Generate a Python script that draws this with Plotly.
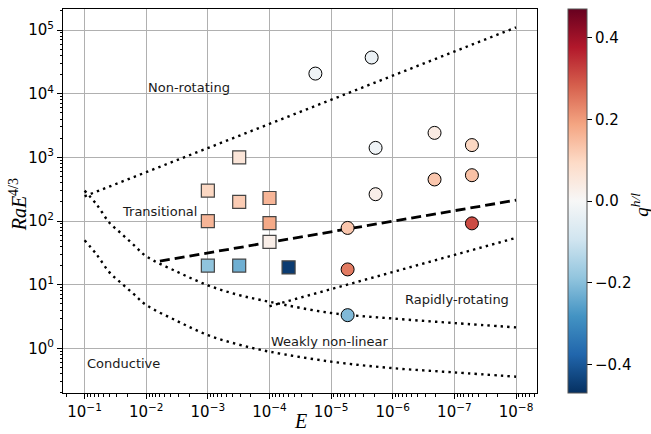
import math
import plotly.graph_objects as go

# Simulations: square markers (first set) and circle markers (second set)
sq_E = [1e-3, 1e-3, 1e-3, 3.1e-4, 3.1e-4, 3.1e-4, 1e-4, 1e-4, 1e-4, 4.9e-5]
sq_Ra = [300, 100, 20, 1000, 200, 20, 230, 93, 47, 18.7]
sq_q = [0.10, 0.16, -0.19, 0.06, 0.12, -0.23, 0.16, 0.18, 0.03, -0.45]

ci_E = [1.8e-5, 2.2e-6, 1.9e-6, 1.9e-6, 5.4e-6, 5.4e-6, 5.4e-6, 2.1e-7, 2.1e-7, 5.2e-8, 5.2e-8, 5.2e-8]
ci_Ra = [2.07e4, 3.7e4, 1410, 264, 78, 17.4, 3.33, 2425, 450, 1560, 525, 92]
ci_q = [-0.02, -0.03, -0.02, 0.03, 0.13, 0.245, -0.21, 0.04, 0.13, 0.10, 0.14, 0.31]

# Regime boundaries
curve_E = [1e-1, 10**-1.2, 10**-1.4, 10**-1.6, 10**-1.8, 1e-2, 10**-2.5, 1e-3,
           10**-3.5, 1e-4, 1e-5, 1e-6, 1e-7, 1e-8]
onset_Ra = [50, 29.5, 15.8, 10.5, 7.1, 4.8, 2.7, 1.62, 1.15, 0.89, 0.62, 0.49, 0.42, 0.36]
weak_Ra = [300, 180, 95, 63, 42, 28, 16, 9.8, 6.9, 5.4, 3.6, 2.95, 2.5, 2.14]

nonrot_E = [1e-1, 1e-8]
nonrot_Ra = [245, 1.1e5]
trans_E = [6e-3, 1e-8]
trans_Ra = [23.5, 213]
rapid_E = [1e-4, 1e-8]
rapid_Ra = [4.6, 54.5]

# Regime labels: (text, E, RaE^4/3)
region_text = ["Non-rotating", "Transitional", "Conductive", "Weakly non-linear", "Rapidly-rotating"]
region_E = [1e-2, 10**-1.57, 1e-1, 1e-4, 10**-6.17]
region_Ra = [10**4.10, 10**2.155, 10**-0.235, 10**0.104, 10**0.77]

# Axis decades
x_exps = [-1, -2, -3, -4, -5, -6, -7, -8]
y_exps = [0, 1, 2, 3, 4, 5]
cbar_ticks = [-0.4, -0.2, 0.0, 0.2, 0.4]

rdbu_r = ["#053061", "#2166ac", "#4393c3", "#92c5de", "#d1e5f0", "#f7f7f7",
          "#fddbc7", "#f4a582", "#d6604d", "#b2182b", "#67001f"]
colorscale = [[i / 10, c] for i, c in enumerate(rdbu_r)]


def pow_label(e):
    return "10<sup>" + str(e).replace("-", "−") + "</sup>"


def minor_vals(lo, hi):
    return [m * 10.0**d for d in range(lo, hi) for m in range(2, 10)]


dot = dict(color="black", width=2.4, dash="2.4px,4.2px")

fig = go.Figure()
fig.add_trace(go.Scatter(x=curve_E, y=onset_Ra, mode="lines", line=dict(shape="spline", **dot)))
fig.add_trace(go.Scatter(x=curve_E, y=weak_Ra, mode="lines", line=dict(shape="spline", **dot)))
fig.add_trace(go.Scatter(x=nonrot_E, y=nonrot_Ra, mode="lines", line=dot))
fig.add_trace(go.Scatter(x=rapid_E, y=rapid_Ra, mode="lines", line=dot))
fig.add_trace(go.Scatter(x=trans_E, y=trans_Ra, mode="lines",
                         line=dict(color="black", width=2.8, dash="10px,5px")))

fig.add_trace(go.Scatter(
    x=sq_E, y=sq_Ra, mode="markers",
    marker=dict(symbol="square", size=13, color=sq_q, coloraxis="coloraxis",
                line=dict(color="#444444", width=1.2))))
fig.add_trace(go.Scatter(
    x=ci_E, y=ci_Ra, mode="markers",
    marker=dict(symbol="circle", size=13, color=ci_q, coloraxis="coloraxis",
                line=dict(color="black", width=1))))

for t, xe, yr in zip(region_text, region_E, region_Ra):
    fig.add_annotation(x=math.log10(xe), y=math.log10(yr),
                       text=t, showarrow=False, xanchor="left", yanchor="middle",
                       font=dict(family="DejaVu Sans", size=13, color="#1a1a1a"))

serif = "Liberation Serif, DejaVu Serif, serif"
fig.add_annotation(xref="paper", yref="paper", x=0.5, y=-41 / 384, text="<i>E</i>",
                   showarrow=False, xanchor="center", yanchor="bottom",
                   font=dict(family=serif, size=20, color="black"))
fig.add_annotation(xref="paper", yref="paper", x=-0.096, y=0.49,
                   text="<i>RaE</i><sup>4/3</sup>", textangle=-90,
                   showarrow=False, xanchor="center", yanchor="middle",
                   font=dict(family=serif, size=20, color="black"))
fig.add_annotation(xref="paper", yref="paper", x=1.217, y=0.49,
                   text="<i>q</i><sup><i>h/l</i></sup>", textangle=-90,
                   showarrow=False, xanchor="center", yanchor="middle",
                   font=dict(family=serif, size=19, color="black"))

axis_common = dict(
    type="log", showline=True, linecolor="black", linewidth=1, mirror=True,
    showgrid=True, gridcolor="#b0b0b0", gridwidth=1, zeroline=False,
    ticks="outside", ticklen=5, tickwidth=1, tickcolor="black",
    tickfont=dict(family="DejaVu Sans", size=15, color="black"),
)

fig.update_layout(
    width=651, height=434,
    margin=dict(l=63, r=114, t=9, b=41, autoexpand=False),
    paper_bgcolor="white", plot_bgcolor="white",
    showlegend=False,
    xaxis=dict(range=[-0.65, -8.34], tickmode="array",
               tickvals=[10.0**e for e in x_exps], ticktext=[pow_label(e) for e in x_exps],
               minor=dict(tickmode="array", tickvals=minor_vals(-9, 0), ticks="outside",
                          ticklen=2.5, tickwidth=0.8, tickcolor="black", showgrid=False),
               **axis_common),
    yaxis=dict(range=[-0.70, 5.33], tickmode="array",
               tickvals=[10.0**e for e in y_exps], ticktext=[pow_label(e) for e in y_exps],
               minor=dict(tickmode="array", tickvals=minor_vals(-1, 6), ticks="outside",
                          ticklen=2.5, tickwidth=0.8, tickcolor="black", showgrid=False),
               **axis_common),
    coloraxis=dict(
        colorscale=colorscale, cmin=-0.47, cmax=0.47,
        colorbar=dict(
            x=1.065, xanchor="left", xref="paper", y=0.5, yanchor="middle",
            len=1.0, lenmode="fraction", thickness=19, thicknessmode="pixels",
            outlinecolor="#555555", outlinewidth=1, xpad=0, ypad=0,
            ticks="outside", ticklen=5, tickcolor="black",
            tickvals=cbar_ticks, ticktext=[f"{v:.1f}".replace("-", "−") for v in cbar_ticks],
            tickfont=dict(family="DejaVu Sans", size=15, color="black"),
        ),
    ),
)

fig.write_html("out.html")
